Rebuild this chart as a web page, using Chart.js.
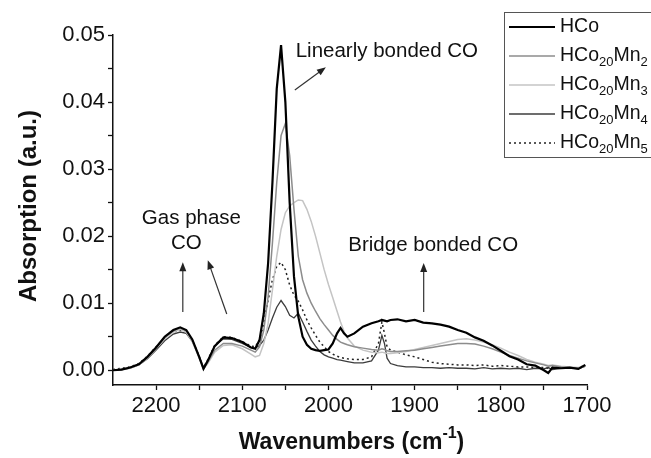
<!DOCTYPE html>
<html>
<head>
<meta charset="utf-8">
<script src="https://cdn.jsdelivr.net/npm/chart.js@4.4.0/dist/chart.umd.min.js"></script>
<style>
  body { margin: 0; background: #fff; }
  canvas { display: block; }
</style>
</head>
<body>
<canvas id="chart" width="651" height="458"></canvas>
<script>
// DATA
let wavenumbers = [2250, 2240, 2230, 2220, 2210, 2200, 2190, 2180, 2172, 2165, 2158, 2150, 2145, 2140, 2132, 2122, 2112, 2100, 2090,
    2085, 2080, 2075, 2070, 2065, 2060, 2055, 2050, 2045, 2040, 2035, 2030, 2025, 2020, 2015, 2010, 2005, 2000,
    1995, 1990, 1986, 1982, 1978, 1970, 1960, 1950, 1942, 1938, 1935, 1932, 1928, 1920, 1910, 1900,
    1890, 1880, 1870, 1860, 1850, 1840, 1830, 1820, 1810, 1800,
    1790, 1780, 1770, 1760, 1750, 1745, 1740, 1730, 1720, 1710, 1702];

let hco = [0.0000, 0.0001, 0.0004, 0.0009, 0.0020, 0.0034, 0.0050, 0.0060, 0.0064, 0.0060, 0.0046, 0.0020, 0.0002, 0.0014, 0.0036, 0.0049, 0.0048, 0.0042, 0.0034,
    0.0032, 0.0045, 0.0085, 0.0160, 0.0280, 0.0420, 0.0485, 0.0400, 0.0250, 0.0140, 0.0080, 0.0050, 0.0038, 0.0032, 0.0030, 0.0029, 0.0030, 0.0031,
    0.0040, 0.0055, 0.0063, 0.0055, 0.0050, 0.0055, 0.0065, 0.0070, 0.0073, 0.0075, 0.0074, 0.0073, 0.0075, 0.0076, 0.0073, 0.0075,
    0.0071, 0.0070, 0.0068, 0.0065, 0.0060, 0.0056, 0.0049, 0.0044, 0.0037, 0.0029,
    0.0021, 0.0016, 0.0009, 0.0007, 0.0000, -0.0004, 0.0004, 0.0003, 0.0004, 0.0002, 0.0008];

let mn2 = [0.0000, 0.0002, 0.0004, 0.0009, 0.0020, 0.0034, 0.0049, 0.0059, 0.0063, 0.0059, 0.0045, 0.0019, 0.0002, 0.0012, 0.0030, 0.0040, 0.0040, 0.0036, 0.0030,
    0.0027, 0.0035, 0.0060, 0.0110, 0.0190, 0.0280, 0.0350, 0.0368, 0.0320, 0.0240, 0.0170, 0.0135, 0.0115, 0.0100, 0.0088, 0.0077, 0.0068, 0.0060,
    0.0052, 0.0046, 0.0042, 0.0040, 0.0038, 0.0035, 0.0033, 0.0031, 0.0030, 0.0032, 0.0031, 0.0029, 0.0028, 0.0028, 0.0029, 0.0030,
    0.0032, 0.0034, 0.0036, 0.0038, 0.0040, 0.0040, 0.0039, 0.0036, 0.0032, 0.0027,
    0.0022, 0.0018, 0.0014, 0.0011, 0.0008, 0.0006, 0.0007, 0.0005, 0.0004, 0.0003, 0.0006];

let mn3 = [0.0000, 0.0001, 0.0003, 0.0008, 0.0018, 0.0032, 0.0047, 0.0057, 0.0061, 0.0057, 0.0043, 0.0018, 0.0002, 0.0010, 0.0027, 0.0037, 0.0038, 0.0032, 0.0024,
    0.0020, 0.0022, 0.0040, 0.0070, 0.0120, 0.0170, 0.0210, 0.0235, 0.0245, 0.0250, 0.0254, 0.0253, 0.0240, 0.0222, 0.0200, 0.0175, 0.0150, 0.0128,
    0.0108, 0.0088, 0.0072, 0.0058, 0.0048, 0.0036, 0.0030, 0.0027, 0.0026, 0.0027, 0.0026, 0.0025, 0.0025, 0.0026, 0.0028, 0.0031,
    0.0034, 0.0037, 0.0040, 0.0043, 0.0046, 0.0047, 0.0045, 0.0042, 0.0038, 0.0033,
    0.0027, 0.0022, 0.0016, 0.0012, 0.0009, 0.0007, 0.0008, 0.0006, 0.0005, 0.0004, 0.0007];

let mn4 = [0.0000, 0.0001, 0.0003, 0.0008, 0.0017, 0.0030, 0.0044, 0.0054, 0.0057, 0.0055, 0.0043, 0.0020, 0.0004, 0.0015, 0.0036, 0.0047, 0.0046, 0.0040, 0.0034,
    0.0033, 0.0037, 0.0045, 0.0060, 0.0078, 0.0094, 0.0104, 0.0095, 0.0082, 0.0078, 0.0085, 0.0072, 0.0058, 0.0045, 0.0036, 0.0028, 0.0023, 0.0020,
    0.0018, 0.0016, 0.0015, 0.0014, 0.0013, 0.0011, 0.0011, 0.0014, 0.0030, 0.0052, 0.0040, 0.0018, 0.0010, 0.0007, 0.0005, 0.0005,
    0.0004, 0.0004, 0.0003, 0.0004, 0.0003, 0.0003, 0.0002, 0.0004, 0.0002, 0.0003,
    0.0002, 0.0003, 0.0001, 0.0003, 0.0002, 0.0004, 0.0001, 0.0003, 0.0004, 0.0002, 0.0006];

let mn5 = [0.0001, 0.0003, 0.0005, 0.0010, 0.0021, 0.0035, 0.0049, 0.0057, 0.0060, 0.0058, 0.0045, 0.0021, 0.0004, 0.0016, 0.0037, 0.0050, 0.0049, 0.0043, 0.0036,
    0.0035, 0.0045, 0.0070, 0.0105, 0.0135, 0.0155, 0.0161, 0.0150, 0.0127, 0.0112, 0.0103, 0.0090, 0.0075, 0.0063, 0.0052, 0.0042, 0.0035, 0.0028,
    0.0024, 0.0021, 0.0019, 0.0018, 0.0017, 0.0016, 0.0016, 0.0020, 0.0040, 0.0072, 0.0055, 0.0035, 0.0030, 0.0027, 0.0023, 0.0020,
    0.0016, 0.0012, 0.0010, 0.0009, 0.0008, 0.0008, 0.0007, 0.0008, 0.0006, 0.0007,
    0.0006, 0.0005, 0.0005, 0.0004, 0.0004, 0.0003, 0.0004, 0.0005, 0.0004, 0.0003, 0.0008];

let xTicks = [2200, 2100, 2000, 1900, 1800, 1700];
let xTickLabels = ["2200", "2100", "2000", "1900", "1800", "1700"];
let xMinorTicks = [2150, 2050, 1950, 1850, 1750];
let yTicks = [0, 0.01, 0.02, 0.03, 0.04, 0.05];
let yTickLabels = ["0.00", "0.01", "0.02", "0.03", "0.04", "0.05"];
let yMinorTicks = [0.005, 0.015, 0.025, 0.035, 0.045];

const FONT = "'Liberation Sans', Arial, Helvetica, sans-serif";

function points(values) {
    return wavenumbers.map((w, i) => ({ x: w, y: values[i] }));
}

// legend rows: text parts, "s" = subscript
let legendRows = [
    { parts: [["HCo", ""]], color: "#000", width: 2.2, dash: [] },
    { parts: [["HCo", ""], ["20", "s"], ["Mn", ""], ["2", "s"]], color: "#8c8c8c", width: 1.5, dash: [] },
    { parts: [["HCo", ""], ["20", "s"], ["Mn", ""], ["3", "s"]], color: "#c4c4c4", width: 1.5, dash: [] },
    { parts: [["HCo", ""], ["20", "s"], ["Mn", ""], ["4", "s"]], color: "#3c3c3c", width: 1.3, dash: [] },
    { parts: [["HCo", ""], ["20", "s"], ["Mn", ""], ["5", "s"]], color: "#222", width: 1.5, dash: [2, 3] }
];

function richWidth(ctx, parts, size, bold) {
    let w = 0;
    parts.forEach(p => {
        ctx.font = (bold ? "bold " : "") + (p[1] ? Math.round(size * 0.68) : size) + "px " + FONT;
        w += ctx.measureText(p[0]).width;
    });
    return w;
}

function drawRich(ctx, parts, x, y, size, bold) {
    parts.forEach(p => {
        let s = p[1] ? Math.round(size * 0.68) : size;
        ctx.font = (bold ? "bold " : "") + s + "px " + FONT;
        let dy = p[1] === "s" ? size * 0.32 : (p[1] === "u" ? -size * 0.4 : 0);
        ctx.fillText(p[0], x, y + dy);
        x += ctx.measureText(p[0]).width;
    });
}

function arrow(ctx, x1, y1, x2, y2) {
    let a = Math.atan2(y2 - y1, x2 - x1);
    let len = 9, half = 3.5;
    ctx.beginPath();
    ctx.moveTo(x1, y1);
    ctx.lineTo(x2 - Math.cos(a) * len * 0.8, y2 - Math.sin(a) * len * 0.8);
    ctx.stroke();
    ctx.beginPath();
    ctx.moveTo(x2, y2);
    ctx.lineTo(x2 - Math.cos(a) * len - Math.sin(a) * half, y2 - Math.sin(a) * len + Math.cos(a) * half);
    ctx.lineTo(x2 - Math.cos(a) * len + Math.sin(a) * half, y2 - Math.sin(a) * len - Math.cos(a) * half);
    ctx.closePath();
    ctx.fill();
}

const overlay = {
    id: "overlay",
    afterDraw(chart) {
        let ctx = chart.ctx;
        let xs = chart.scales.x, ys = chart.scales.y;
        let area = chart.chartArea;
        let px = v => xs.getPixelForValue(v);
        let py = v => ys.getPixelForValue(v);
        ctx.save();

        // axis titles
        ctx.fillStyle = "#111";
        ctx.textBaseline = "middle";
        ctx.textAlign = "left";
        let xt = [["Wavenumbers (cm", ""], ["-1", "u"], [")", ""]];
        let w = richWidth(ctx, xt, 23, true) + 3;
        drawRich(ctx, xt, 353 - w / 2, 443, 23, true);

        ctx.save();
        ctx.translate(29, 206);
        ctx.rotate(-Math.PI / 2);
        ctx.textAlign = "center";
        ctx.font = "bold 24px " + FONT;
        ctx.fillText("Absorption (a.u.)", 0, 0);
        ctx.restore();

        // annotations
        ctx.font = "20.5px " + FONT;
        ctx.fillStyle = "#111";
        ctx.textAlign = "center";
        ctx.fillText("Gas phase", px(2159), py(0.0227));
        ctx.fillText("CO", px(2165), py(0.019));
        ctx.textAlign = "left";
        ctx.fillText("Linearly bonded CO", px(2038), py(0.0475));
        ctx.fillText("Bridge bonded CO", px(1977), py(0.0187));

        ctx.strokeStyle = "#333";
        ctx.fillStyle = "#222";
        ctx.lineWidth = 1.2;
        arrow(ctx, px(2169), py(0.0087), px(2169), py(0.0161));
        arrow(ctx, px(2118), py(0.0084), px(2140), py(0.0164));
        arrow(ctx, px(2039), py(0.0418), px(2003), py(0.0452));
        arrow(ctx, px(1889.5), py(0.0087), px(1889.5), py(0.016));

        // legend
        ctx.fillStyle = "#fff";
        ctx.fillRect(504, 12, 160, 145);
        ctx.strokeStyle = "#555";
        ctx.lineWidth = 1;
        ctx.strokeRect(504.5, 12.5, 160, 145);
        legendRows.forEach((r, i) => {
            let y = 27 + i * 29;
            ctx.strokeStyle = r.color;
            ctx.lineWidth = r.width;
            ctx.setLineDash(r.dash);
            ctx.beginPath();
            ctx.moveTo(509, y);
            ctx.lineTo(555, y);
            ctx.stroke();
            ctx.setLineDash([]);
            ctx.fillStyle = "#111";
            ctx.textAlign = "left";
            drawRich(ctx, r.parts, 560, y, 19.5, false);
        });
        ctx.restore();
    }
};

function loadChart() {
    let ctx = document.getElementById("chart");

    new Chart(ctx, {
        type: "line",
        data: {
            datasets: [
                { label: "HCo", data: points(hco), borderColor: "#000", borderWidth: 2.2 },
                { label: "HCo20Mn2", data: points(mn2), borderColor: "#8c8c8c", borderWidth: 1.5 },
                { label: "HCo20Mn3", data: points(mn3), borderColor: "#c4c4c4", borderWidth: 1.5 },
                { label: "HCo20Mn4", data: points(mn4), borderColor: "#3c3c3c", borderWidth: 1.3 },
                { label: "HCo20Mn5", data: points(mn5), borderColor: "#222", borderWidth: 1.5, borderDash: [2, 3] }
            ]
        },
        options: {
            responsive: false,
            animation: false,
            layout: { padding: { top: 35, right: 64, left: 0, bottom: 0 } },
            elements: {
                point: { radius: 0 },
                line: { tension: 0, fill: false }
            },
            plugins: {
                legend: { display: false },
                tooltip: { enabled: false }
            },
            scales: {
                x: {
                    type: "linear",
                    reverse: true,
                    min: 1700,
                    max: 2250,
                    afterBuildTicks: s => {
                        s.ticks = xTicks.concat(xMinorTicks).map(v => ({ value: v }));
                    },
                    afterFit: s => { s.height = 73; },
                    ticks: {
                        autoSkip: false,
                        maxRotation: 0,
                        padding: 3,
                        color: "#111",
                        font: { family: FONT, size: 22 },
                        callback: v => {
                            let i = xTicks.indexOf(v);
                            return i >= 0 ? xTickLabels[i] : "";
                        }
                    },
                    grid: { drawOnChartArea: false, tickLength: 5, tickColor: "#111", tickWidth: 1.3 },
                    border: { color: "#111", width: 1.5 }
                },
                y: {
                    min: -0.0022,
                    max: 0.05,
                    afterBuildTicks: s => {
                        s.ticks = yTicks.concat(yMinorTicks).map(v => ({ value: v }));
                    },
                    afterFit: s => { s.width = 113; },
                    ticks: {
                        autoSkip: false,
                        padding: 3,
                        color: "#111",
                        font: { family: FONT, size: 22 },
                        callback: v => {
                            let i = yTicks.findIndex(t => Math.abs(t - v) < 1e-9);
                            return i >= 0 ? yTickLabels[i] : "";
                        }
                    },
                    grid: { drawOnChartArea: false, tickLength: 5, tickColor: "#111", tickWidth: 1.3 },
                    border: { color: "#111", width: 1.5 }
                }
            }
        },
        plugins: [overlay]
    });
}

window.onload = loadChart;
</script>
</body>
</html>
